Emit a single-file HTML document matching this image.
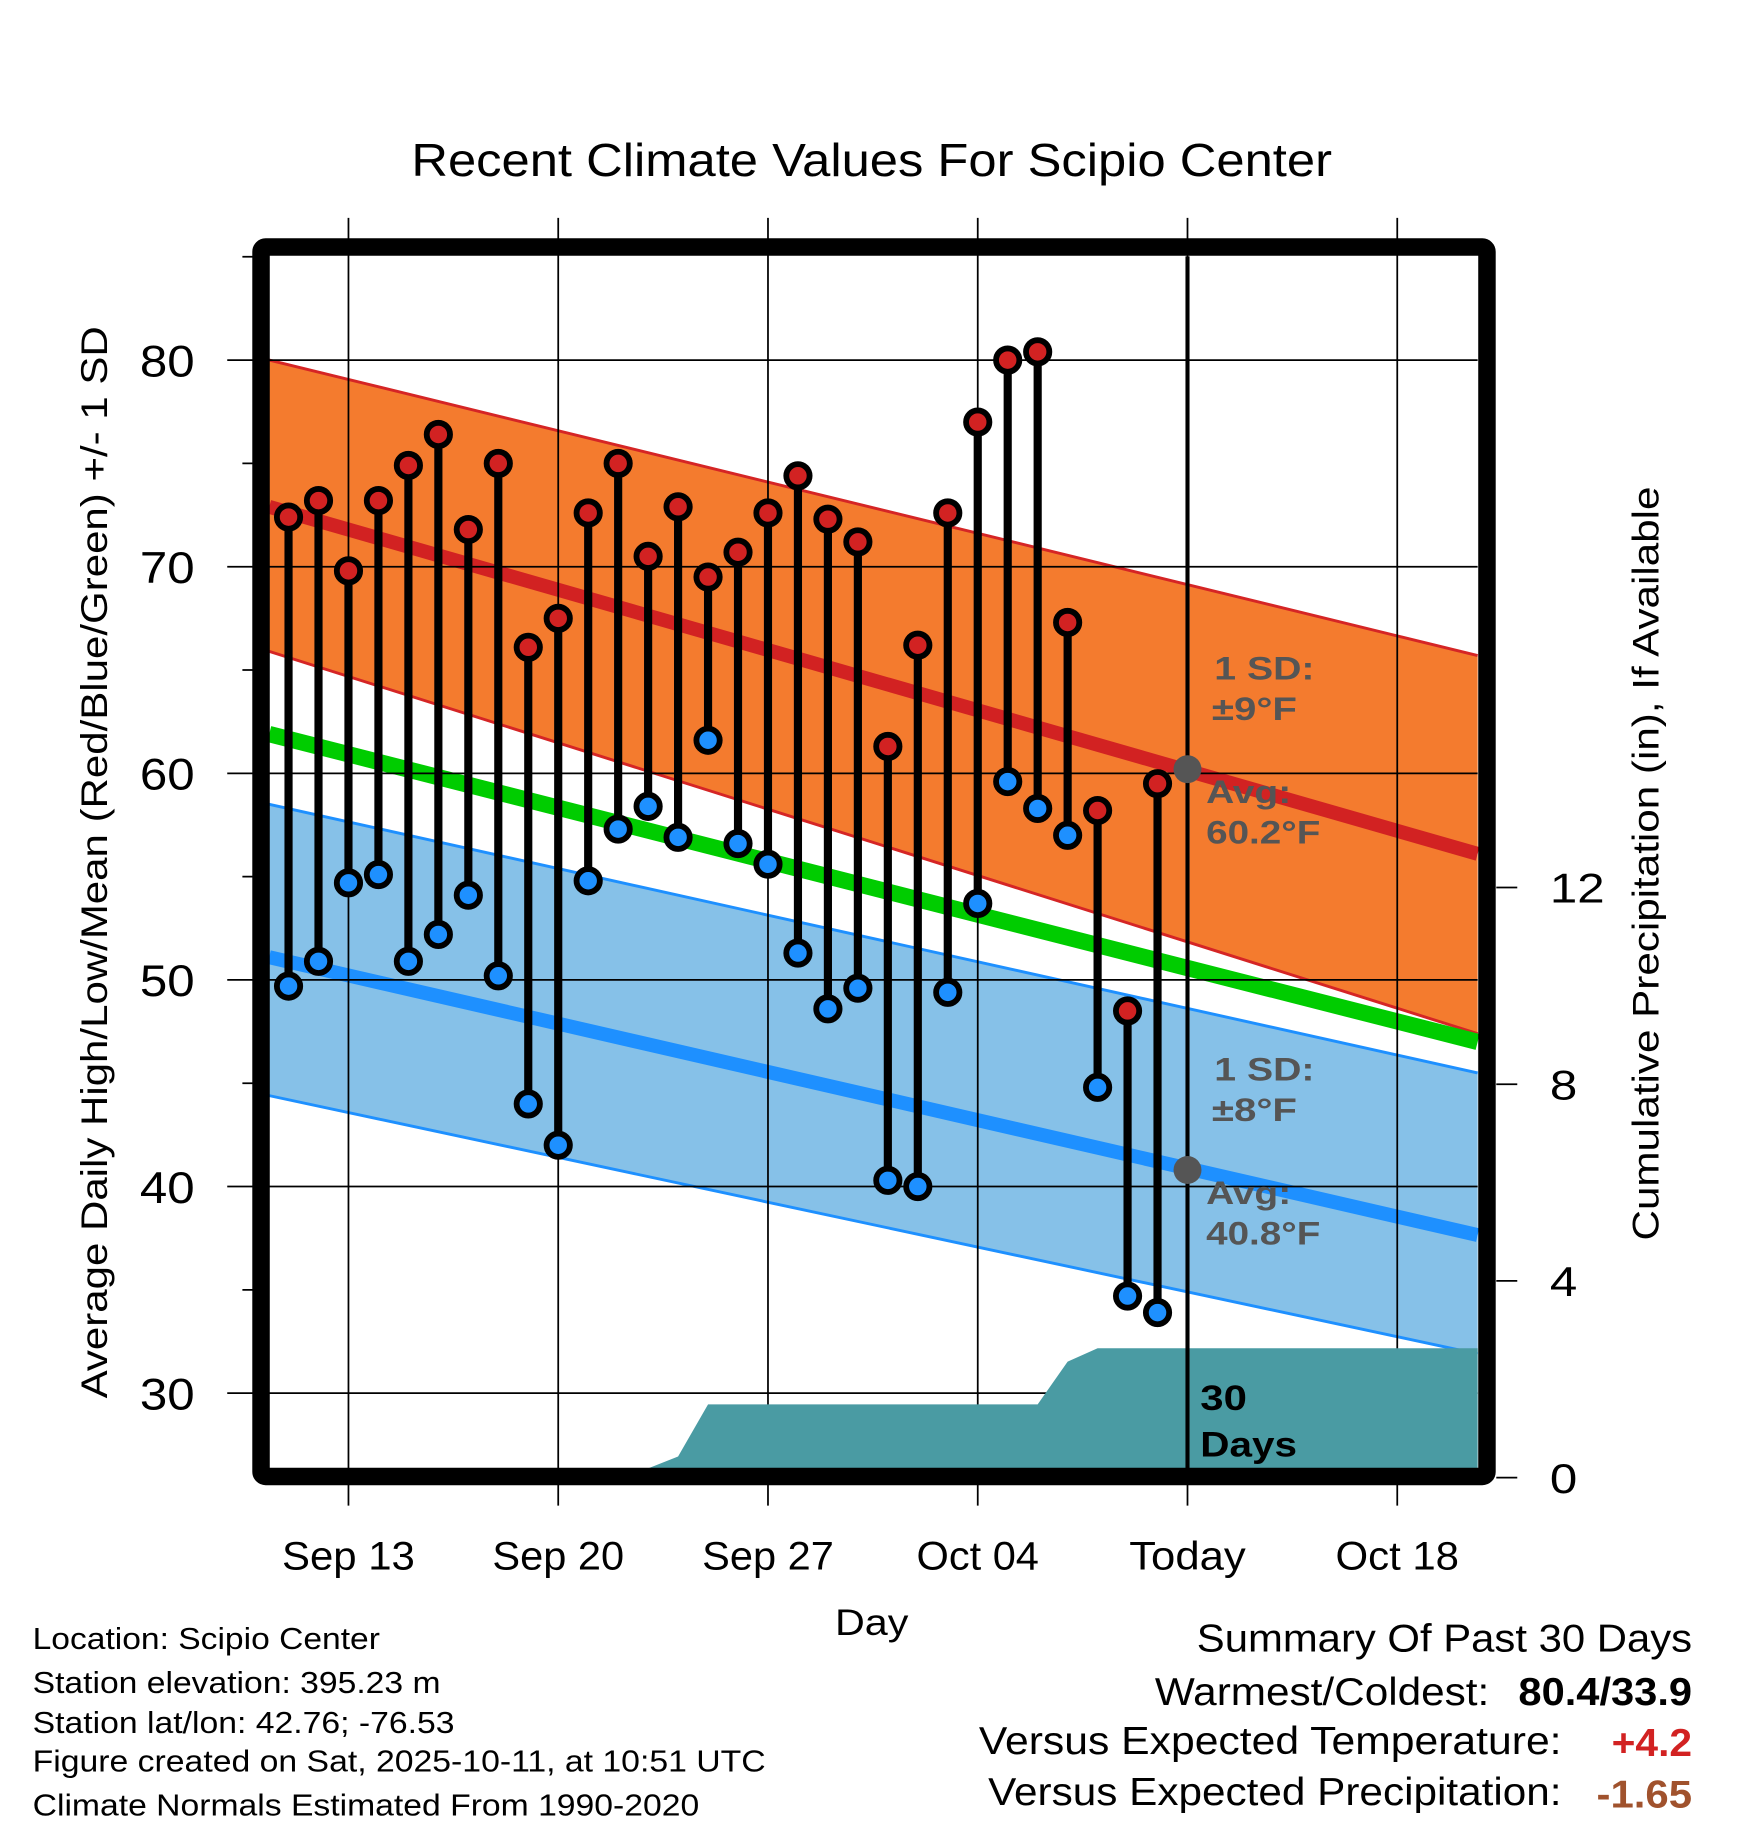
<!DOCTYPE html>
<html><head><meta charset="utf-8"><style>
html,body{margin:0;padding:0;background:#fff}
svg{display:block;font-family:"Liberation Sans",Arial,sans-serif}
</style></head><body>
<svg id="chart" width="1748" height="1828" viewBox="0 0 1500 1568.65" xmlns="http://www.w3.org/2000/svg">
<text x="748" y="151" font-size="40" text-anchor="middle" textLength="790" lengthAdjust="spacingAndGlyphs">Recent Climate Values For Scipio Center</text>
<g id="bands"></g>
<g id="grid"></g>
<g id="precip"></g>
<g id="series"></g>
<g id="frame"></g>
</svg>
<script>
// ---- data ----
const dayLabels = ["Sep 13","Sep 20","Sep 27","Oct 04","Today","Oct 18"];
const dayLabelIdx = [2,9,16,23,30,37]; // day index from Sep 11
const highs = [72.4,73.2,69.8,73.2,74.9,76.4,71.8,75.0,66.1,67.5,72.6,75.0,70.5,72.9,69.5,70.7,72.6,74.4,72.3,71.2,61.3,66.2,72.6,77.0,80.0,80.4,67.3,58.2,48.5,59.5];
const lows  = [49.7,50.9,54.7,55.1,50.9,52.2,54.1,50.2,44.0,42.0,54.8,57.3,58.4,56.9,61.6,56.6,55.6,51.3,48.6,49.6,40.3,40.0,49.4,53.7,59.6,58.3,57.0,44.8,34.7,33.9];
const precip = [0,0,0,0,0,0,0,0,0,0,0,0,0,0.43,1.49,1.49,1.49,1.49,1.49,1.49,1.49,1.49,1.49,1.49,1.49,1.49,2.36,2.63,2.63,2.63];
const yTicks = [30,40,50,60,70,80];
const pTicks = [0,4,8,12];
// normals at plot left / right edge
const normHigh = [72.9,56.1];
const normHighUp = [80.0,65.7];
const normHighLo = [65.9,47.4];
const normMean = [61.9,47.0];
const normLow = [51.1,37.65];
const normLowUp = [58.5,45.5];
const normLowLo = [44.4,31.9];

// ---- scales ----
const X0=231,X1=1268,Y0=219,Y1=1260;
const xd = d => 247.6 + d*25.714;          // d=0 -> Sep 11
const yv = v => 309 + (80-v)*17.73;
const yp = p => 1268 - p*42.2;
const NS="http://www.w3.org/2000/svg";
function mk(parent,tag,attrs,text){const e=document.createElementNS(NS,tag);for(const k in attrs)e.setAttribute(k,attrs[k]);if(text!==undefined)e.textContent=text;document.getElementById(parent).appendChild(e);return e;}
const xLabelW = [114,113,113,105,100,106];

function band(up,lo,fill,stroke,name){
  const e=mk('bands','polygon',{points:`${X0},${yv(up[0])} ${X1},${yv(up[1])} ${X1},${yv(lo[1])} ${X0},${yv(lo[0])}`,fill:fill});
  
  
  [up,lo].forEach(a=>{const l=mk('bands','line',{x1:X0,y1:yv(a[0]),x2:X1,y2:yv(a[1]),stroke:stroke,'stroke-width':2.5});
    
    });
}
band(normHighUp,normHighLo,'#f47b2e','#d52525','high-sd-band');
band(normLowUp,normLowLo,'#86c1e8','#1e90ff','low-sd-band');
function nline(a,color,w,name){const l=mk('bands','line',{x1:X0,y1:yv(a[0]),x2:X1,y2:yv(a[1]),stroke:color,'stroke-width':w});
  
  }
nline(normHigh,'#d22222',12,'normal-high-line');
nline(normMean,'#00cc00',14,'normal-mean-line');
nline(normLow,'#1e90ff',12,'normal-low-line');

yTicks.forEach(v=>{
  const l=mk('grid','line',{x1:195,y1:yv(v),x2:X1,y2:yv(v),stroke:'#000','stroke-width':1.5});
  
  
  const t=mk('grid','text',{x:167,y:yv(v)+14,'font-size':38,'text-anchor':'end',textLength:47,lengthAdjust:'spacingAndGlyphs'},String(v));
  
  
});
for(let v=35;v<=85;v+=10){
  const l=mk('grid','line',{x1:208,y1:yv(v),x2:224,y2:yv(v),stroke:'#000','stroke-width':1.5});
  
  
}
dayLabelIdx.forEach((d,i)=>{
  const l=mk('grid','line',{x1:xd(d),y1:187,x2:xd(d),y2:1292,stroke:'#000','stroke-width':1.5});
  
  
  const t=mk('grid','text',{x:xd(d),y:1347,'font-size':34,'text-anchor':'middle',textLength:xLabelW[i],lengthAdjust:'spacingAndGlyphs'},dayLabels[i]);
  
  
});
pTicks.forEach(p=>{
  const l=mk('grid','line',{x1:1284,y1:yp(p),x2:1302,y2:yp(p),stroke:'#000','stroke-width':1.5});
  
  
  const s=String(p);
  const t=mk('grid','text',{x:1330,y:yp(p)+13,'font-size':36,textLength:s.length*23.5,lengthAdjust:'spacingAndGlyphs'},s);
  
  
});

let pts=`${xd(0)},${Y1} `;
precip.forEach((p,i)=>{pts+=`${xd(i)},${Math.min(Y1,yp(p))} `;});
pts+=`${X1},${Math.min(Y1,yp(precip[precip.length-1]))} ${X1},${Y1}`;
const pa=mk('precip','polygon',{points:pts,fill:'#4a9ba3'});



const tl=mk('series','line',{x1:xd(30),y1:220,x2:xd(30),y2:Y1,stroke:'#000','stroke-width':3.5});


const td1=mk('series','circle',{cx:xd(30),cy:yv(60.2),r:12,fill:'#555'});


const td2=mk('series','circle',{cx:xd(30),cy:yv(40.8),r:12,fill:'#555'});



highs.forEach((h,i)=>{
  const x=xd(i);
  const s=mk('series','line',{x1:x,y1:yv(h),x2:x,y2:yv(lows[i]),stroke:'#000','stroke-width':7});
  
  
  const hc=mk('series','circle',{cx:x,cy:yv(h),r:10,fill:'#d22222',stroke:'#000','stroke-width':5});
  
  
  const lc=mk('series','circle',{cx:x,cy:yv(lows[i]),r:10,fill:'#1e90ff',stroke:'#000','stroke-width':5});
  
  
});

const fr=mk('frame','rect',{x:224,y:212,width:1052,height:1055,fill:'none',stroke:'#000','stroke-width':15,rx:4});


</script>
<svg style="position:absolute;left:0;top:0" width="1748" height="1828" viewBox="0 0 1500 1568.65">
<g font-family="Liberation Sans, Arial, sans-serif">
<g font-weight="bold" font-size="28" fill="#555" lengthAdjust="spacingAndGlyphs">
<text x="1042" y="583" textLength="86" lengthAdjust="spacingAndGlyphs">1 SD:</text>
<text x="1040" y="618" textLength="73" lengthAdjust="spacingAndGlyphs">±9°F</text>
<text x="1035" y="689" textLength="73" lengthAdjust="spacingAndGlyphs">Avg:</text>
<text x="1035" y="724" textLength="98" lengthAdjust="spacingAndGlyphs">60.2°F</text>
<text x="1042" y="927" textLength="86" lengthAdjust="spacingAndGlyphs">1 SD:</text>
<text x="1040" y="962" textLength="73" lengthAdjust="spacingAndGlyphs">±8°F</text>
<text x="1035" y="1033" textLength="73" lengthAdjust="spacingAndGlyphs">Avg:</text>
<text x="1035" y="1068" textLength="98" lengthAdjust="spacingAndGlyphs">40.8°F</text>
</g>
<text x="1030" y="1210" font-size="30" font-weight="bold" textLength="40" lengthAdjust="spacingAndGlyphs">30</text>
<text x="1030" y="1250" font-size="30" font-weight="bold" textLength="83" lengthAdjust="spacingAndGlyphs">Days</text>
<text transform="translate(92,740) rotate(-90)" font-size="32" text-anchor="middle" textLength="920" lengthAdjust="spacingAndGlyphs">Average Daily High/Low/Mean (Red/Blue/Green) +/- 1 SD</text>
<text transform="translate(1423,741) rotate(-90)" font-size="32" text-anchor="middle" textLength="647" lengthAdjust="spacingAndGlyphs">Cumulative Precipitation (in), If Available</text>
<text x="748" y="1403" font-size="32" text-anchor="middle" textLength="63" lengthAdjust="spacingAndGlyphs">Day</text>
<g font-size="26">
<text x="28" y="1415" textLength="298" lengthAdjust="spacingAndGlyphs">Location: Scipio Center</text>
<text x="28" y="1453" textLength="350" lengthAdjust="spacingAndGlyphs">Station elevation: 395.23 m</text>
<text x="28" y="1487" textLength="362" lengthAdjust="spacingAndGlyphs">Station lat/lon: 42.76; -76.53</text>
<text x="28" y="1520" textLength="629" lengthAdjust="spacingAndGlyphs">Figure created on Sat, 2025-10-11, at 10:51 UTC</text>
<text x="28" y="1558" textLength="572" lengthAdjust="spacingAndGlyphs">Climate Normals Estimated From 1990-2020</text>
</g>
<g font-size="33">
<text x="1027" y="1417" textLength="425" lengthAdjust="spacingAndGlyphs">Summary Of Past 30 Days</text>
<text x="991" y="1463" textLength="287" lengthAdjust="spacingAndGlyphs">Warmest/Coldest:</text>
<text x="1303" y="1463" font-weight="bold" textLength="149" lengthAdjust="spacingAndGlyphs">80.4/33.9</text>
<text x="840" y="1505" textLength="500" lengthAdjust="spacingAndGlyphs">Versus Expected Temperature:</text>
<text x="1383" y="1507" font-weight="bold" fill="#d22222" textLength="69" lengthAdjust="spacingAndGlyphs">+4.2</text>
<text x="848" y="1549" textLength="492" lengthAdjust="spacingAndGlyphs">Versus Expected Precipitation:</text>
<text x="1370" y="1551" font-weight="bold" fill="#a0522d" textLength="82" lengthAdjust="spacingAndGlyphs">-1.65</text>
</g>
</g>
</svg>
</body></html>
